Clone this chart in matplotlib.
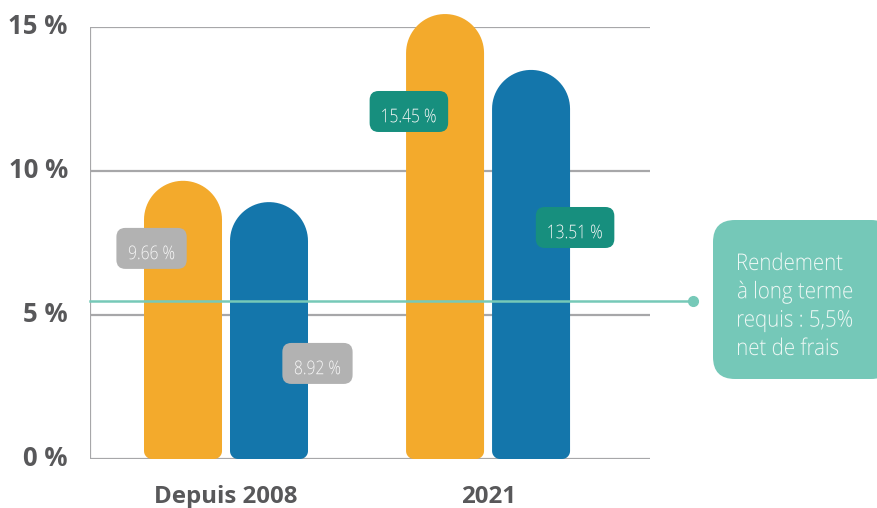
import numpy as np
import matplotlib.pyplot as plt
from matplotlib.patches import Polygon, FancyBboxPatch, PathPatch
from matplotlib.transforms import blended_transform_factory, Affine2D
from matplotlib.textpath import TextPath
from matplotlib.font_manager import FontProperties

# data
categories = ["Depuis 2008", "2021"]
series_a = [9.66, 15.45]   # orange
series_b = [8.92, 13.51]   # blue
target = 5.5
yticks = [0, 5, 10, 15]
callout_lines = ["Rendement", "à long terme", "requis : 5,5%", "net de frais"]

ORANGE = "#f3aa2c"
BLUE = "#1476ab"
GRID = "#a7a7a9"
TICK = "#58585a"
TEAL_LINE = "#76c9b8"
LBL_GRAY = "#b2b2b2"
LBL_TEAL = "#178f7e"
CALLOUT = "#75c8b8"

W, H, DPI = 878, 508, 100
fig = plt.figure(figsize=(W / DPI, H / DPI), dpi=DPI)
ax_l, ax_b, ax_w, ax_h = 90, 49, 560, 432
ax = fig.add_axes([ax_l / W, ax_b / H, ax_w / W, ax_h / H])

xmin, xmax = -0.519, 1.618
ax.set_xlim(xmin, xmax)
ax.set_ylim(0, 15)

px_x = ax_w / (xmax - xmin)
px_y = ax_h / 15.0
bar_w = 78 / px_x
offset = 43 / px_x

# pixel space (origin bottom-left) -> figure
PX = Affine2D().scale(1 / DPI) + fig.dpi_scale_trans
light = FontProperties(family="Open Sans", weight="light")


def narrow_text(x, y, s, size, color, sx=0.82, ha="left", z=8):
    # condensed look: squeeze the glyph outlines horizontally
    tp = TextPath((0, 0), s, size=size, prop=light)
    ext = tp.get_extents()
    w = ext.width * sx
    x0 = x if ha == "left" else x - w / 2
    t = Affine2D().translate(-ext.x0, 0).scale(sx, 1).translate(x0, y) + PX
    fig.add_artist(PathPatch(tp, transform=t, fc=color, ec="none", lw=0, zorder=z))
    return w


def rounded_bar(xc, h, color):
    rx = bar_w / 2
    ry = rx * px_x / px_y
    cx, cy = 8 / px_x, 8 / px_y
    x0, x1 = xc - rx, xc + rx
    t = np.linspace(np.pi, 0, 40)
    top = np.column_stack([xc + rx * np.cos(t), h - ry + ry * np.sin(t)])
    t2 = np.linspace(0, -np.pi / 2, 12)
    br = np.column_stack([x1 - cx + cx * np.cos(t2), cy + cy * np.sin(t2)])
    t3 = np.linspace(-np.pi / 2, -np.pi, 12)
    bl = np.column_stack([x0 + cx + cx * np.cos(t3), cy + cy * np.sin(t3)])
    pts = np.vstack([[[x0, cy], [x0, h - ry]], top, [[x1, cy]], br, bl])
    ax.add_patch(Polygon(pts, closed=True, fc=color, ec="none",
                         zorder=3, clip_on=False))


x = np.arange(len(categories))
for i in range(len(categories)):
    rounded_bar(x[i] - offset, series_a[i], ORANGE)
    rounded_bar(x[i] + offset, series_b[i], BLUE)

# grid + axis
for v in yticks:
    ax.axhline(v, color=GRID, lw=1.6, zorder=1)
ax.axvline(xmin, color=GRID, lw=1.6, zorder=1)
for s in ax.spines.values():
    s.set_visible(False)

ax.set_yticks(yticks)
ax.set_yticklabels([f"{v} %" for v in yticks])
ax.set_xticks(x)
ax.set_xticklabels(categories)
ax.tick_params(length=0)
ax.tick_params(axis="y", pad=16)
ax.tick_params(axis="x", pad=31.5)
for lab in ax.get_yticklabels():
    lab.set_fontsize(18.5)
    lab.set_va("center")
for lab in ax.get_xticklabels():
    lab.set_fontsize(17.3)
    lab.set_va("baseline")
for lab in ax.get_yticklabels() + ax.get_xticklabels():
    lab.set_fontfamily("Open Sans")
    lab.set_fontweight("bold")
    lab.set_color(TICK)

# required-return line
tr = blended_transform_factory(ax.transAxes, ax.transData)
line_end = (693 - ax_l) / ax_w
ax.plot([0, line_end], [target, target], color=TEAL_LINE, lw=1.8,
        transform=tr, clip_on=False, zorder=4)
ax.plot([line_end], [target], "o", color=TEAL_LINE, ms=7,
        transform=tr, clip_on=False, zorder=4)

# value labels
lbl_dx = [-0.12, 0.185, -0.138, 0.168]
lbl_fy = [0.757, 0.372, 0.781, 0.595]
vals = [series_a[0], series_b[0], series_a[1], series_b[1]]
xs = [x[0] - offset, x[0] + offset, x[1] - offset, x[1] + offset]
colors = [LBL_GRAY, LBL_GRAY, LBL_TEAL, LBL_TEAL]
size = 19
for k in range(4):
    px, py = ax.transData.transform((xs[k] + lbl_dx[k], vals[k] * lbl_fy[k]))
    s = f"{vals[k]:.2f} %"
    tw = TextPath((0, 0), s, size=size, prop=light).get_extents().width * 0.82
    bw, bh = tw + 25, 41
    fig.add_artist(FancyBboxPatch((px - bw / 2, py - bh / 2), bw, bh,
                                  boxstyle="round,pad=0,rounding_size=9",
                                  transform=PX, fc=colors[k], ec="none", zorder=7))
    narrow_text(px, py - 4 - 0.714 * size / 2, s, size, "#f7f7f7", ha="center")

# callout box
fig.add_artist(FancyBboxPatch((713, H - 379), 180, 159,
                              boxstyle="round,pad=0,rounding_size=22",
                              transform=PX, fc=CALLOUT, ec="none", zorder=7))
baselines = [270, 298.3, 326.6, 355]
for line, yb in zip(callout_lines, baselines):
    narrow_text(738, H - yb, line, 23, "#eef8f5", sx=0.89)

fig.savefig("out.png", dpi=DPI)
